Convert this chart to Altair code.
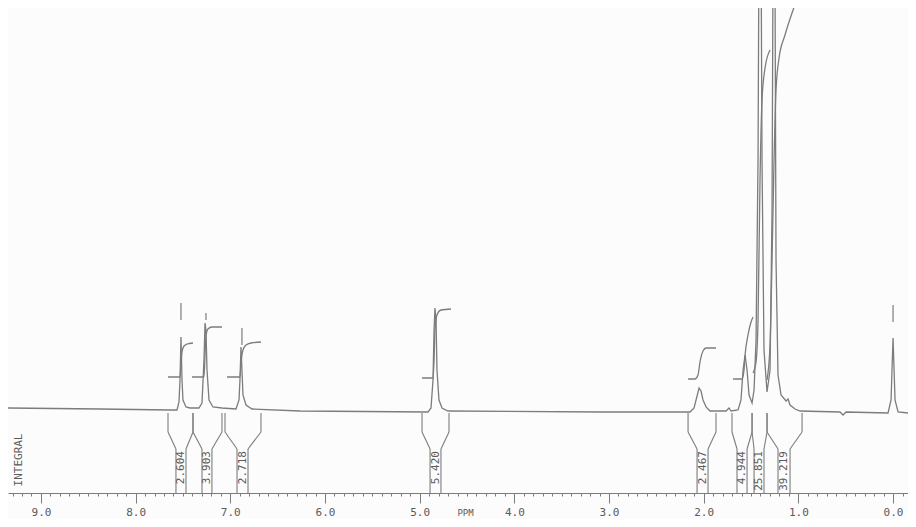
import altair as alt
import pandas as pd

# ---- spectrum trace: chemical shift (ppm) and signal height
spec_ppm = [9.35, 8.38, 7.64, 7.563, 7.542, 7.531, 7.521, 7.510, 7.500, 7.468, 7.426,
            7.331, 7.299, 7.278, 7.267, 7.257, 7.246, 7.225, 7.183, 7.088,
            6.940, 6.908, 6.898, 6.887, 6.877, 6.866, 6.834, 6.771, 6.264,
            4.912, 4.880, 4.859, 4.848, 4.838, 4.827, 4.817, 4.796, 4.764, 4.701,
            3.095, 2.144, 2.102, 2.070, 2.049, 2.028, 2.007, 1.975, 1.933,
            1.764, 1.732, 1.711, 1.637, 1.606, 1.584, 1.563, 1.542, 1.521, 1.489,
            1.468, 1.447, 1.426, 1.405, 1.384, 1.363, 1.331, 1.299, 1.278, 1.257,
            1.236, 1.215, 1.183, 1.130, 1.109, 1.088, 1.035, 0.982,
            0.560, 0.528, 0.496, 0.053, 0.021, 0.011, 0.000, -0.011, -0.021, -0.053, -0.158]
spec_int = [2, 1, 0, 0, 8, 30, 73, 30, 10, 3, 2,
            2, 7, 50, 87, 80, 40, 10, 3, 2,
            1, 10, 30, 63, 40, 15, 5, 1, -1,
            -2, 2, 30, 80, 102, 90, 40, 10, 2, -1,
            -2, -2, 2, 14, 22, 19, 10, 3, -1,
            -1, 2, -1, 0, 10, 40, 55, 40, 15, 7,
            20, 70, 250, 700, 250, 60, 18, 40, 200, 700,
            150, 35, 15, 9, 11, 5, 1, -1,
            -2, -5, -2, -3, 10, 40, 72, 40, 10, -2, -3]

# ---- integral traces (one list per integrated region)
int_ppm = [
    [7.658, 7.532, 7.521, 7.510, 7.489, 7.457, 7.394],
    [7.405, 7.278, 7.267, 7.257, 7.236, 7.194, 7.088],
    [7.035, 6.898, 6.887, 6.866, 6.834, 6.781, 6.676],
    [4.975, 4.859, 4.848, 4.838, 4.817, 4.775, 4.669],
    [2.165, 2.092, 2.060, 2.039, 2.007, 1.975, 1.870],
    [1.690, 1.595, 1.574, 1.563, 1.532, 1.500, 1.479],
    [1.479, 1.447, 1.426, 1.405, 1.384, 1.352, 1.299],
    [1.331, 1.299, 1.278, 1.257, 1.236, 1.204, 1.141, 1.056, 0.982],
]
int_val = [
    [33, 33, 45, 58, 64, 66, 67],
    [33, 33, 55, 74, 81, 83, 83],
    [33, 33, 47, 60, 65, 67, 68],
    [32, 32, 50, 80, 95, 100, 101],
    [31, 31, 35, 48, 59, 62, 62],
    [31, 31, 40, 55, 75, 88, 93],
    [37, 48, 90, 230, 310, 342, 360],
    [30, 65, 150, 250, 320, 352, 375, 400, 420],
]

# ---- peak markers
mark_ppm = [7.521, 7.257, 6.877, 0.0]
mark_lo = [90, 90, 65, 88]
mark_hi = [107, 97, 82, 105]

# ---- integral regions (bracket boundaries) and their values
reg_outer_l = [7.658, 7.394, 7.056, 4.975, 2.165, 1.701, 1.489, 1.331]
reg_inner_l = [7.574, 7.299, 6.929, 4.890, 2.070, 1.648, 1.468, 1.215]
reg_inner_r = [7.468, 7.194, 6.813, 4.775, 1.954, 1.542, 1.363, 1.088]
reg_outer_r = [7.394, 7.088, 6.676, 4.690, 1.870, 1.489, 1.331, 0.961]
reg_labels = ["2.604", "3.903", "2.718", "5.420", "2.467", "4.944", "25.851", "39.219"]

# ---- axis ticks (every 0.1 ppm, labels on whole ppm)
tick_values = [round(-0.1 + 0.1 * i, 1) for i in range(95)]

# ------------------------------------------------------------------ frames
spec_df = pd.DataFrame({"ppm": spec_ppm, "v": spec_int, "o": range(len(spec_ppm))})

rows = []
for k, (ps, vs) in enumerate(zip(int_ppm, int_val)):
    for j, (p, v) in enumerate(zip(ps, vs)):
        rows.append({"ppm": p, "v": v, "curve": k, "o": j})
int_df = pd.DataFrame(rows)

mark_df = pd.DataFrame({"ppm": mark_ppm, "lo": mark_lo, "hi": mark_hi})

br_df = pd.DataFrame({
    "outer": reg_outer_l + reg_outer_r,
    "inner": reg_inner_l + reg_inner_r,
})
lab_df = pd.DataFrame({
    "ppm": [(a + b) / 2 for a, b in zip(reg_inner_l, reg_inner_r)],
    "label": reg_labels,
})
title_df = pd.DataFrame({"ppm": [9.237], "label": ["INTEGRAL"]})

# ------------------------------------------------------------------ scales/axis
GRAY = "#7c7c7c"
TXT = "#5a5a5a"
MONO = "DejaVu Sans Mono"

x_scale = alt.Scale(domain=[-0.158, 9.348], reverse=True, nice=False, zero=False)
y_scale = alt.Scale(domain=[-83, 402], nice=False, zero=False)
is_major = "abs(datum.value - round(datum.value)) < 0.01"
x_axis = alt.Axis(
    values=tick_values,
    labelExpr=f"{is_major} ? format(datum.value, '.1f') : ''",
    tickSize={"condition": {"test": is_major, "value": 10}, "value": 3},
    tickColor=GRAY, domainColor=GRAY, grid=False,
    labelFont=MONO, labelFontSize=11, labelColor=TXT, labelPadding=3,
    labelOverlap=False, labelFlush=False,
    title="PPM", titleFont=MONO, titleFontSize=9, titleFontWeight="normal",
    titleColor=TXT, titleX=457, titleY=15, titleAlign="center", titleBaseline="top",
)


def X(field):
    return alt.X(f"{field}:Q", scale=x_scale, axis=x_axis)


def Y(field):
    return alt.Y(f"{field}:Q", scale=y_scale, axis=None)


spectrum = alt.Chart(spec_df).mark_line(color=GRAY, strokeWidth=1.3, clip=True).encode(
    x=X("ppm"), y=Y("v"), order="o:Q")

integrals = alt.Chart(int_df).mark_line(color=GRAY, strokeWidth=1.3, clip=True,
                                        interpolate="monotone").encode(
    x=X("ppm"), y=Y("v"), detail="curve:N", order="o:Q")

markers = alt.Chart(mark_df).mark_rule(color=GRAY, strokeWidth=1.2).encode(
    x=X("ppm"), y=Y("lo"), y2="hi:Q")

br_top = alt.Chart(br_df).mark_rule(color=GRAY, strokeWidth=1.1).encode(
    x=X("outer"), y=alt.Y(datum=-3, scale=y_scale, axis=None), y2=alt.datum(-22))
br_mid = alt.Chart(br_df).mark_rule(color=GRAY, strokeWidth=1.1).encode(
    x=X("outer"), x2="inner:Q", y=alt.Y(datum=-22, scale=y_scale, axis=None), y2=alt.datum(-39))
br_low = alt.Chart(br_df).mark_rule(color=GRAY, strokeWidth=1.1).encode(
    x=X("inner"), y=alt.Y(datum=-39, scale=y_scale, axis=None), y2=alt.datum(-84))

labels = alt.Chart(lab_df).mark_text(angle=270, align="right", baseline="middle",
                                     font=MONO, fontSize=11, color=TXT).encode(
    x=X("ppm"), y=alt.Y(datum=-41, scale=y_scale, axis=None), text="label:N")

integral_title = alt.Chart(title_df).mark_text(angle=270, align="center", baseline="middle",
                                               font=MONO, fontSize=11, color=TXT).encode(
    x=X("ppm"), y=alt.Y(datum=-50, scale=y_scale, axis=None), text="label:N")

chart = alt.layer(
    spectrum, integrals, markers, br_top, br_mid, br_low, labels, integral_title
).properties(
    width=900, height=485,
    autosize=alt.AutoSizeParams(type="none"),
    padding={"left": 0, "top": 0, "right": 0, "bottom": 26},
    background="#fcfcfc",
).configure_view(stroke=None)

chart.save("out.html", embed_options={"renderer": "svg", "actions": False})
